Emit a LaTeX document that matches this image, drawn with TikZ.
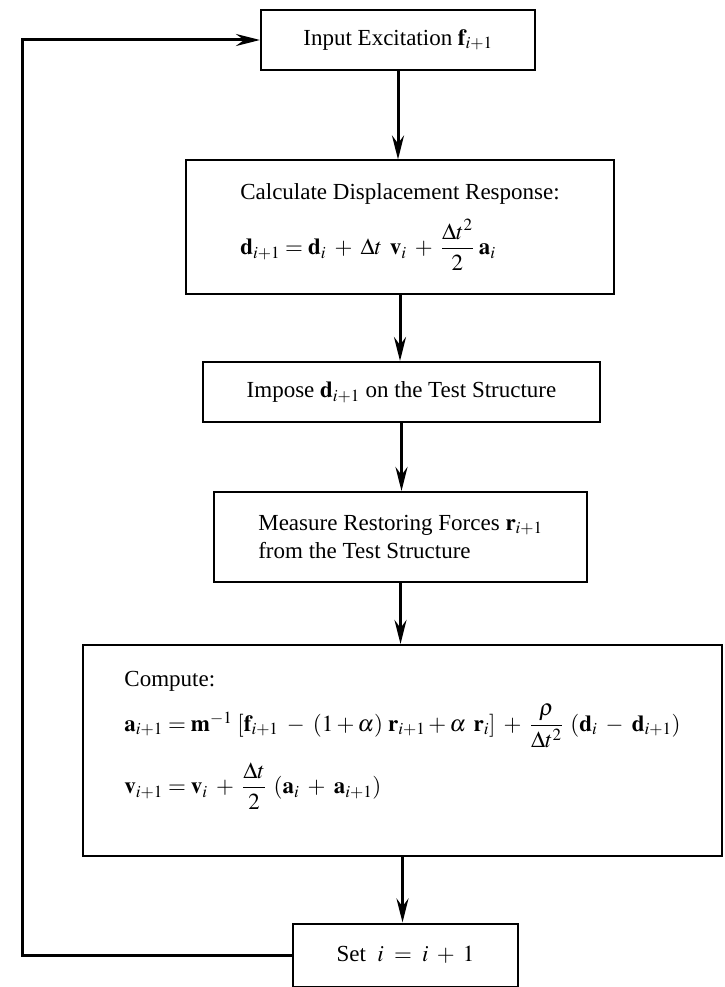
\documentclass[tikz,border=0pt]{standalone}
\usepackage{amsmath}
\usepackage{mathptmx}
\usepackage{fontspec}
\setmainfont{Liberation Serif}
\usetikzlibrary{arrows.meta}

\begin{document}
\begin{tikzpicture}[x=1pt,y=-1pt,box/.style={draw,line width=2pt,align=center,inner sep=0pt,font=\fontsize{23}{28}\selectfont},step box/.style={box,align=left},arr/.style={-{Stealth[length=24pt,width=12pt,inset=8pt]},line width=3pt}]
\useasboundingbox (0,0) rectangle (724,987);
\node[box,minimum width=274pt,minimum height=60pt](inp) at (398,40){Input Excitation $\mathbf{f}_{i+1}$};
\node[step box,minimum width=428pt,minimum height=133pt](disp) at (400,227){Calculate Displacement Response:\\[14pt]$\mathbf{d}_{i+1}=\mathbf{d}_i\;+\;\Delta t\;\,\mathbf{v}_i\;+\;\dfrac{\Delta t^2}{2}\;\mathbf{a}_i$};
\node[box,minimum width=397pt,minimum height=60pt](imp) at (401.5,392){Impose $\mathbf{d}_{i+1}$ on the Test Structure};
\node[step box,minimum width=373pt,minimum height=90pt](meas) at (400.5,537){Measure Restoring Forces $\mathbf{r}_{i+1}$\\from the Test Structure};
\node[step box,minimum width=639pt,minimum height=211pt](comp) at (402.5,750.5){Compute:\\[12pt]$\mathbf{a}_{i+1}=\mathbf{m}^{-1}\;[\mathbf{f}_{i+1}\;-\;(1+\alpha)\;\mathbf{r}_{i+1}+\alpha\;\,\mathbf{r}_i]\;+\;\dfrac{\rho}{\Delta t^2}\;\,(\mathbf{d}_i\;-\;\mathbf{d}_{i+1})$\\[14pt]$\mathbf{v}_{i+1}=\mathbf{v}_i\;+\;\dfrac{\Delta t}{2}\;\,(\mathbf{a}_i\;+\;\mathbf{a}_{i+1})$\\[8pt]};
\node[box,minimum width=225pt,minimum height=63pt](inc) at (405.5,955){Set\ \ $i\;=\;i\;+\;1$};
\coordinate (back) at (22,500);
\draw[arr](inp.south)--(inp.south|-disp.north);
\draw[arr](disp.south)--(disp.south|-imp.north);
\draw[arr](imp.south)--(imp.south|-meas.north);
\draw[arr](meas.south)--(meas.south|-comp.north);
\draw[arr](comp.south)--(comp.south|-inc.north);
\draw[arr](inc.west)--(inc.west-|back)--(back|-inp.west)--(inp.west);
\end{tikzpicture}
\end{document}
